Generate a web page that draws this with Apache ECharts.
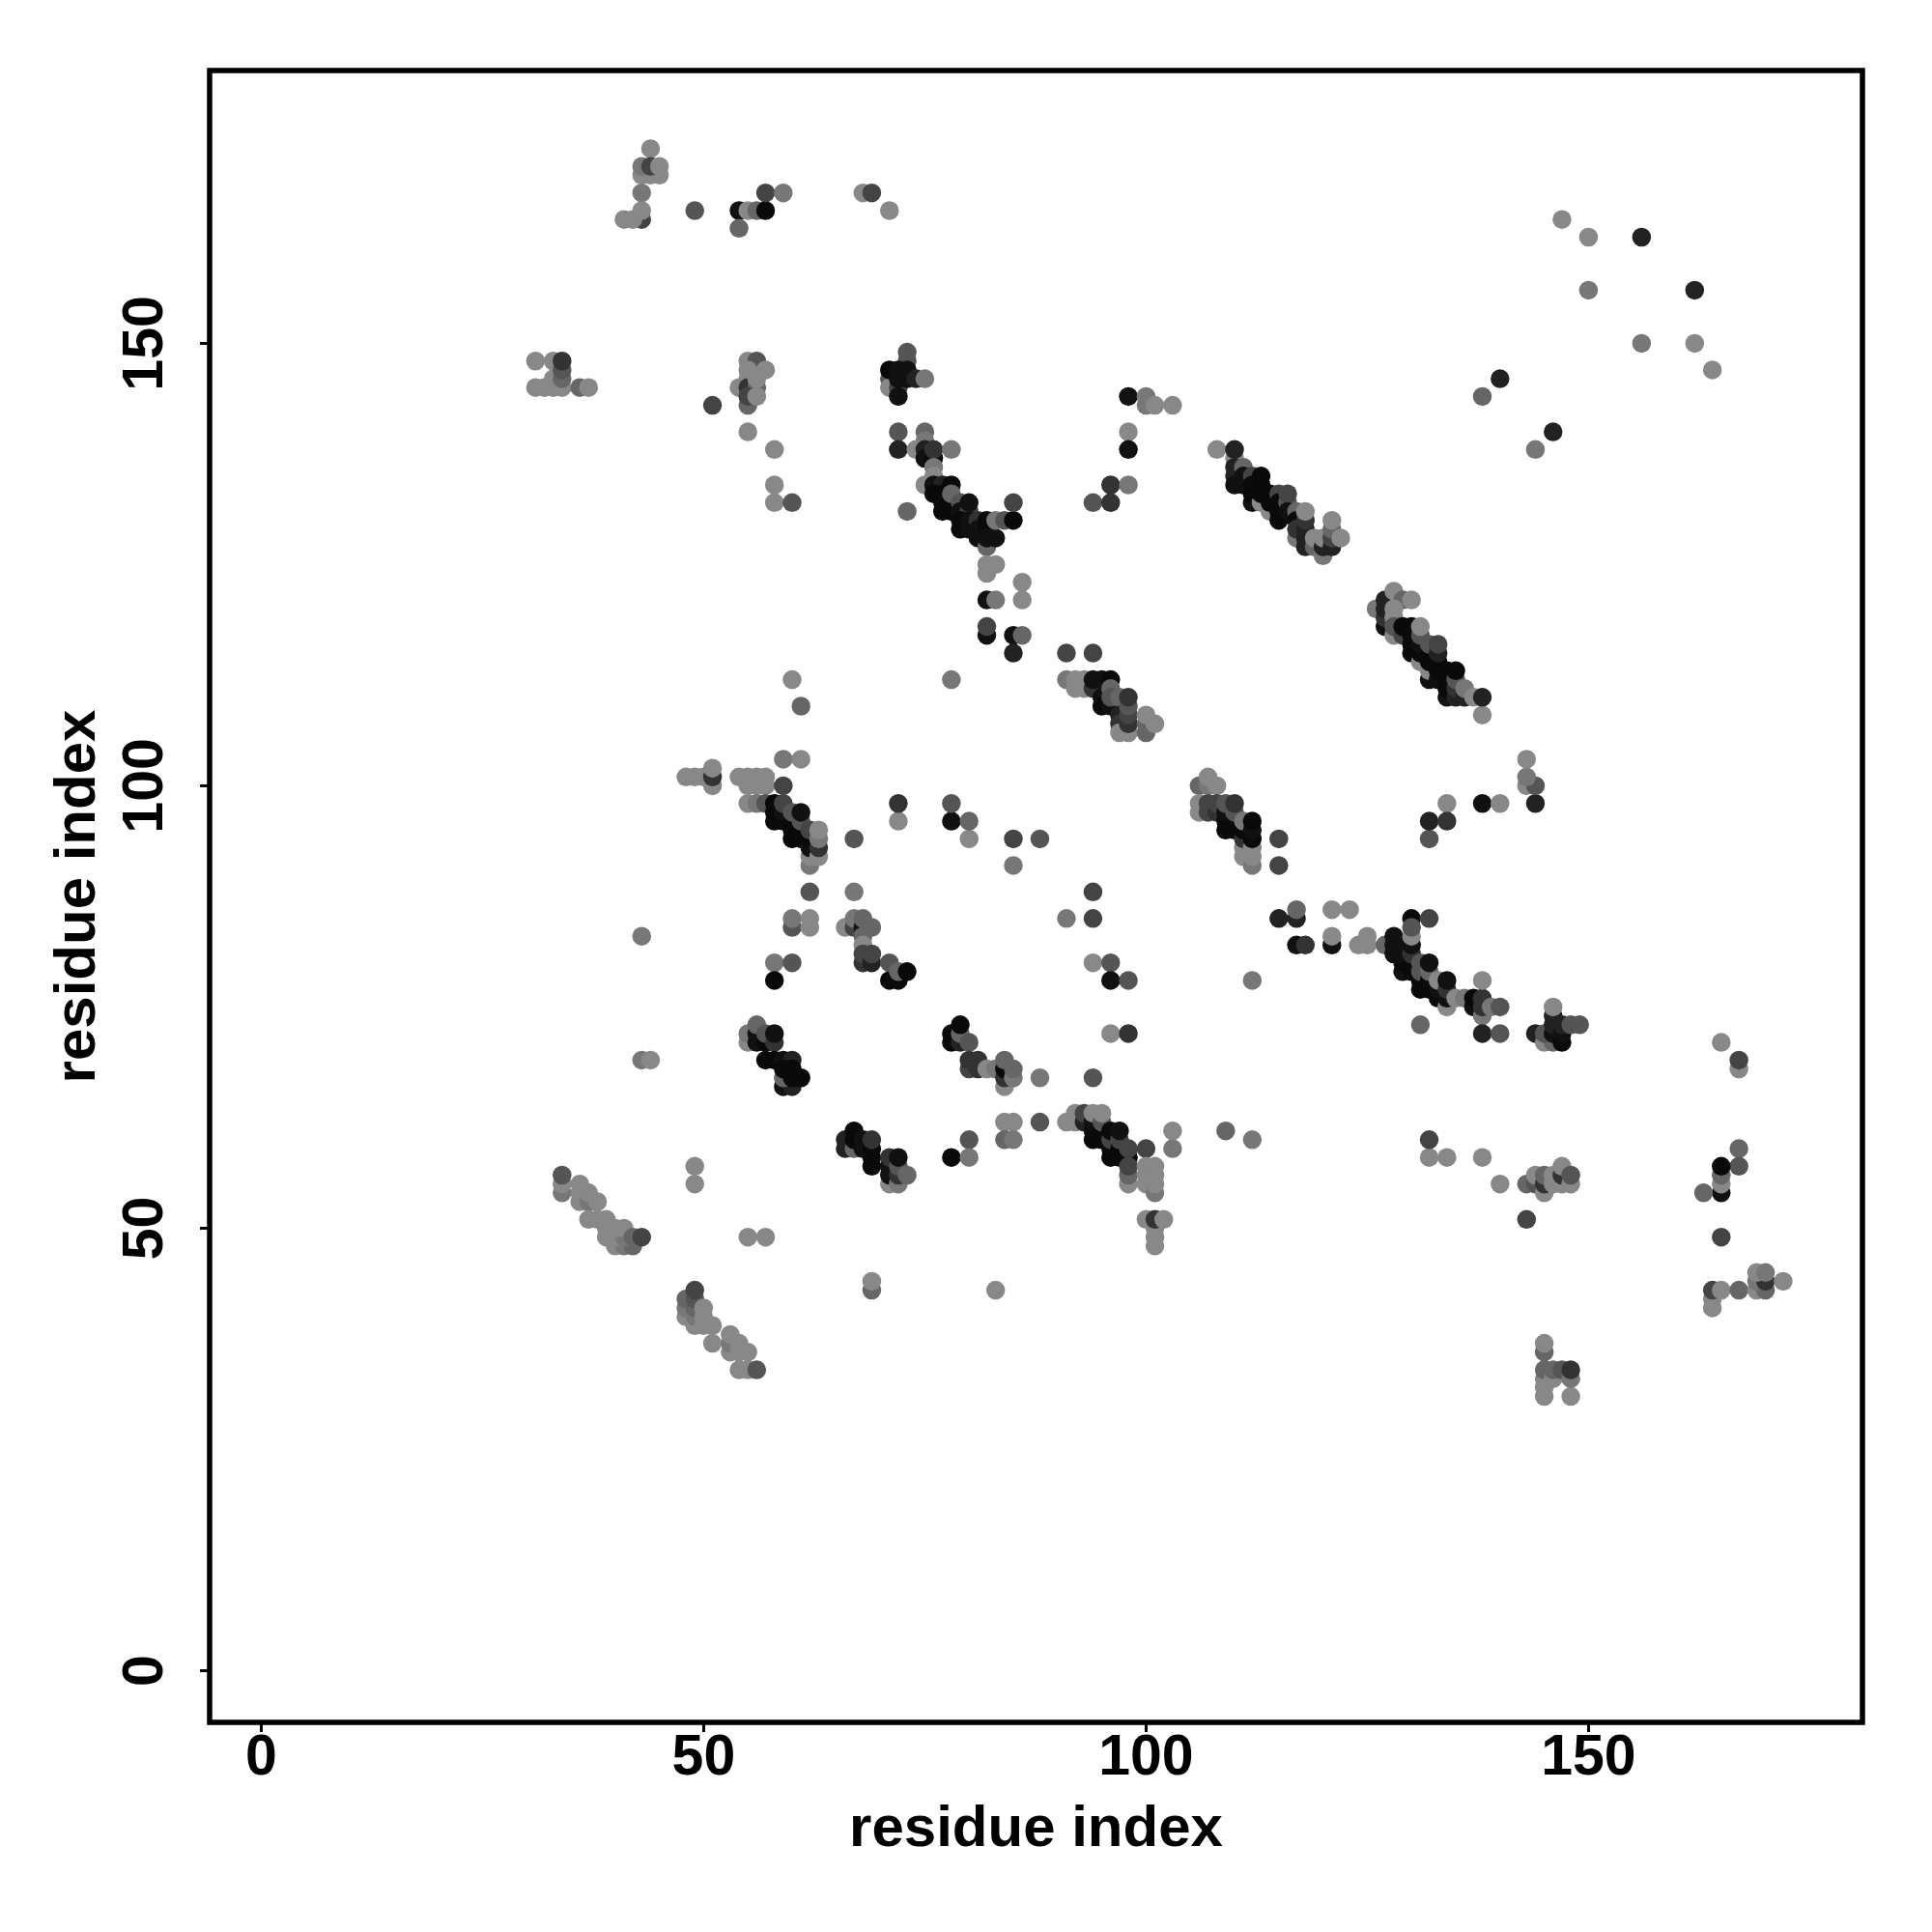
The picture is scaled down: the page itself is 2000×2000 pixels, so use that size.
<!DOCTYPE html>
<html>
<head>
<meta charset="utf-8">
<style>html,body{margin:0;padding:0;background:#fff}#c{width:2000px;height:2000px}</style>
<script src="https://cdn.jsdelivr.net/npm/echarts@6/dist/echarts.min.js"></script>
</head>
<body>
<div id="c"></div>
<script>
// Contacts as [residue x, residue y, shade], shade 0 (darkest) .. 8 (lightest)
const topLeft = [[44,172,8],[43,169,8],[44,169,8],[45,169,8],[43,170,7],[44,170,4],[45,170,8],[43,167,7],[43,164,4],[41,164,8],[42,164,8],[43,165,8],[49,165,5],[54,165,1],[55,165,8],[56,165,6],[57,165,0],[54,163,6],[57,167,4],[59,167,7],[68,167,8],[69,167,4],[71,165,8]];
const row145 = [[31,148,8],[33,148,8],[33,146,8],[31,145,8],[32,145,8],[33,145,8],[34,145,8],[34,146,6],[34,147,5],[34,148,3],[36,145,6],[37,145,8],[51,143,4],[55,148,8],[56,147,2],[56,148,5],[55,147,8],[55,146,8],[54,145,8],[55,145,3],[56,145,6],[56,146,8],[55,143,6],[55,144,4],[56,144,8],[57,147,8],[55,140,8],[58,138,8],[58,134,8],[58,132,8],[60,132,5],[73,131,6]];
const helixA = [[71,146,5],[71,145,8],[72,145,4],[72,144,1],[73,149,5],[73,148,5],[71,147,0],[72,147,1],[73,147,1],[72,146,1],[73,146,1],[74,146,2],[75,146,7],[72,140,5],[75,140,6],[75,139,7],[72,138,2],[74,138,8],[75,138,2],[75,137,1],[76,137,0],[76,138,3],[78,138,7],[76,136,7],[76,135,8],[75,134,8],[76,134,1],[77,134,2],[78,134,0],[76,133,0],[77,133,0],[77,132,0],[77,131,0],[78,132,0],[78,131,0],[78,133,6],[79,132,5],[79,131,1],[80,131,4],[80,132,1],[79,130,0],[79,129,0],[80,130,1],[80,129,1],[81,130,3],[81,129,1],[81,128,1],[82,127,6],[82,130,0],[82,129,0],[82,128,1],[83,128,1],[83,130,7],[84,130,5],[85,130,0],[85,132,4]];
const column82 = [[82,124,8],[82,125,8],[83,125,8],[86,123,8],[82,121,1],[83,121,7],[86,121,8],[82,117,1],[82,118,4],[85,117,1],[86,117,6],[85,115,2],[78,112,7],[60,112,8],[61,109,6]];
const helixB = [[91,115,4],[94,115,4],[91,112,7],[92,111,8],[93,111,8],[92,112,8],[93,112,8],[94,111,3],[94,112,1],[95,112,1],[96,112,0],[95,110,1],[95,109,0],[96,109,1],[96,111,6],[96,110,5],[97,110,6],[97,108,2],[97,107,3],[97,106,8],[98,106,8],[98,107,3],[98,108,4],[98,109,5],[98,110,3],[100,106,6],[100,107,6],[100,108,8],[101,107,8]];
const upperMid = [[98,144,1],[100,143,7],[100,144,7],[101,143,8],[103,143,8],[98,140,8],[98,138,1],[96,134,3],[98,134,7],[94,132,5],[96,132,3]];
const helixC = [[108,138,8],[110,137,8],[110,138,2],[110,136,2],[110,135,2],[110,134,1],[111,136,6],[111,135,1],[111,134,1],[112,135,4],[112,132,1],[112,134,0],[112,133,0],[113,132,8],[113,135,0],[113,134,0],[113,133,0],[114,131,8],[114,133,0],[114,132,0],[115,130,0],[115,133,4],[115,132,0],[115,131,0],[116,132,5],[116,133,4],[116,131,1],[117,131,6],[117,128,7],[117,130,0],[117,129,3],[118,127,2],[118,128,2],[118,129,2],[118,130,3],[118,131,8],[119,127,6],[119,128,8],[120,126,7],[120,127,2],[120,128,8],[121,127,2],[121,128,4],[121,129,6],[121,130,8],[122,128,8]];
const helixD = [[126,120,7],[127,118,1],[127,119,3],[127,120,2],[127,121,2],[128,122,8],[129,121,6],[130,121,8],[128,120,8],[128,119,8],[128,117,8],[128,118,5],[129,117,4],[129,118,0],[130,118,0],[130,115,0],[130,116,0],[130,117,0],[131,114,8],[131,115,0],[131,116,1],[131,117,5],[131,118,8],[132,112,1],[132,113,8],[132,114,0],[132,115,0],[132,116,5],[133,112,1],[133,113,0],[133,114,0],[133,115,2],[133,116,4],[134,110,1],[134,111,0],[134,112,0],[134,113,0],[135,110,2],[135,111,3],[135,112,5],[135,113,0],[136,110,2],[136,111,7],[137,110,8],[138,108,8],[138,110,2]];
const row100 = [[59,103,7],[61,103,8],[51,100,8],[48,101,8],[49,101,8],[50,101,8],[51,101,3],[51,102,8],[54,101,8],[55,100,8],[55,101,8],[56,100,8],[56,101,8],[57,100,8],[57,101,8],[59,100,4],[55,98,8],[56,98,7],[57,98,5],[58,96,0],[58,97,0],[58,98,0],[59,96,0],[59,97,1],[59,98,4],[60,94,0],[60,95,0],[60,96,0],[60,97,5],[61,94,0],[61,95,0],[61,96,5],[61,97,1],[62,91,7],[62,92,8],[62,93,1],[62,94,0],[62,95,4],[63,92,8],[63,93,3],[63,94,7],[63,95,8],[67,94,5],[62,88,5],[67,88,7],[72,96,8],[72,98,3],[78,96,1],[78,98,5],[80,94,8],[80,96,6],[85,91,7],[85,94,4],[88,94,5]];
const helixE = [[60,84,5],[60,85,7],[62,84,8],[62,85,8],[43,83,7],[66,84,8],[67,84,4],[67,85,7],[68,84,1],[68,85,6],[69,84,6],[68,83,6],[68,82,8],[68,80,3],[68,81,4],[69,80,2],[69,81,4],[71,78,0],[72,78,0],[71,80,5],[72,79,6],[73,79,0],[58,80,7],[60,80,5],[58,78,0],[91,85,7],[94,85,4],[94,88,4],[94,80,8],[96,80,5],[96,78,1],[98,78,5],[96,72,8],[98,72,3],[112,78,7]];
const helixF = [[55,71,8],[55,72,7],[56,71,1],[56,72,1],[56,73,6],[57,71,0],[57,72,5],[58,71,3],[58,72,1],[57,69,0],[58,69,0],[59,69,1],[60,69,2],[59,66,1],[60,66,2],[59,67,6],[59,68,0],[60,67,0],[60,68,0],[61,67,0],[43,69,7],[44,69,8]];
const helixG = [[78,71,0],[78,72,0],[79,71,2],[79,72,6],[79,73,0],[80,71,5],[80,68,4],[80,69,3],[81,68,3],[81,69,3],[82,68,8],[83,68,7],[84,66,8],[84,67,3],[84,68,0],[84,69,6],[85,67,7],[85,68,6],[88,67,7],[94,67,5]];
const helixH = [[84,62,8],[85,62,8],[88,62,5],[80,60,5],[84,60,6],[85,60,7],[78,58,0],[80,58,7],[91,62,8],[92,62,8],[92,63,8],[93,62,2],[93,63,4],[94,60,0],[94,61,0],[94,62,1],[94,63,8],[95,60,0],[95,61,0],[95,62,5],[95,63,8],[96,58,0],[96,59,0],[96,60,4],[96,61,0],[97,58,0],[97,59,0],[97,60,4],[97,61,1],[98,58,0],[98,59,4],[98,55,8],[98,56,6],[98,57,4],[100,59,4],[100,55,8],[100,56,8],[100,57,8],[101,54,7],[101,55,8],[101,56,8],[101,57,8],[103,59,7],[103,61,8],[109,61,6],[112,60,7],[100,51,8],[101,48,8],[101,49,8],[101,50,8],[101,51,3],[102,51,8]];
const helixI = [[66,59,2],[66,60,2],[67,59,6],[67,60,0],[67,61,0],[68,59,1],[68,60,1],[69,57,0],[69,58,0],[69,59,0],[69,60,3],[71,55,8],[71,56,1],[71,57,1],[71,58,3],[72,55,7],[72,56,3],[72,57,5],[72,58,1],[73,56,6],[49,55,8],[49,57,8],[55,49,8],[57,49,8],[69,43,6],[69,44,8],[83,43,8]];
const strandLow = [[34,54,7],[34,55,8],[34,56,5],[36,53,8],[36,54,8],[36,55,8],[37,53,7],[37,54,8],[38,53,8],[37,51,8],[38,51,8],[39,51,8],[40,48,8],[41,48,7],[42,48,6],[39,49,8],[40,49,8],[41,49,7],[39,50,8],[40,50,8],[41,50,8],[42,49,6],[43,49,4]];
const strandLow2 = [[48,40,8],[48,41,7],[48,42,6],[49,39,8],[49,40,7],[49,41,6],[49,42,5],[49,43,4],[50,39,8],[50,40,8],[50,41,8],[51,37,8],[51,39,8],[53,36,8],[53,37,7],[53,38,8],[54,36,8],[54,37,8],[55,36,8],[54,34,8],[55,34,8],[56,34,5]];
const helixJ = [[106,100,6],[107,100,7],[107,101,8],[108,100,8],[106,97,8],[106,98,8],[107,97,4],[107,98,4],[108,97,3],[108,98,4],[109,95,0],[109,96,0],[109,97,1],[109,98,5],[110,95,0],[110,96,0],[110,97,5],[110,98,3],[111,92,8],[111,93,8],[111,94,3],[111,95,0],[111,96,7],[112,91,7],[112,92,8],[112,93,8],[112,94,0],[112,95,1],[112,96,0],[115,91,4],[115,94,4]];
const rightMid = [[134,98,8],[132,94,5],[132,96,2],[134,96,3],[138,98,1],[140,98,8],[144,98,2],[143,100,8],[144,100,5],[143,101,7],[143,103,8]];
const helixK = [[115,85,2],[117,85,2],[117,86,6],[121,86,8],[123,86,8],[117,82,1],[118,82,3],[121,82,1],[121,83,8],[124,82,8],[125,82,8],[125,83,8],[127,82,6],[128,81,1],[128,82,1],[128,83,1],[129,79,1],[129,80,0],[129,81,1],[129,82,1],[130,85,0],[130,79,0],[130,80,0],[130,81,3],[130,82,1],[130,83,8],[130,84,5],[132,85,4],[131,77,0],[131,78,0],[131,79,5],[131,80,5],[132,77,0],[132,78,0],[132,79,6],[132,80,1],[133,76,0],[133,77,1],[133,78,8],[134,75,8],[134,76,1],[134,77,3],[134,78,1],[135,76,8],[136,76,7],[137,75,1],[137,76,0],[138,74,7],[138,75,3],[138,76,3],[138,78,8],[139,75,7],[140,75,5],[131,73,6],[138,72,2],[140,72,5]];
const helixL = [[144,72,2],[145,71,8],[146,71,6],[145,72,5],[146,72,1],[146,73,2],[146,74,2],[146,75,8],[147,71,0],[147,72,1],[147,73,2],[148,73,5],[149,73,5]];
const rightLow = [[132,58,8],[132,60,4],[134,58,8],[138,58,8],[140,55,8],[143,55,6],[143,51,4],[144,55,5],[144,56,8],[145,54,8],[145,55,3],[145,56,6],[146,55,8],[146,56,8],[147,55,8],[147,56,3],[147,57,8],[148,55,8],[148,56,5]];
const farRight = [[165,71,8],[167,68,8],[167,69,4],[167,59,6],[167,57,5],[165,54,1],[163,54,6],[165,55,8],[165,56,6],[165,57,0],[165,49,4],[164,41,8],[164,42,8],[164,43,4],[165,43,8],[167,43,6],[169,43,8],[170,43,6],[169,44,7],[170,44,3],[169,45,8],[170,45,7],[172,44,8]];
const bottomRight = [[145,36,6],[145,37,8],[145,31,8],[145,32,8],[145,33,8],[145,34,6],[146,33,8],[146,34,6],[147,34,5],[148,31,8],[148,33,7],[148,34,3]];
const topRight = [[147,164,8],[150,162,8],[156,162,2],[150,156,7],[162,156,2],[156,150,7],[162,150,8],[164,147,8],[140,146,2],[138,144,6],[146,140,2],[144,138,7]];

const tickValues = [0, 50, 100, 150];
const axisTitle = 'residue index';

const contacts = [].concat(topLeft, row145, helixA, column82, helixB, upperMid, helixC, helixD, row100, helixE, helixF, helixG, helixH, helixI, strandLow, strandLow2, helixJ, rightMid, helixK, helixL, rightLow, farRight, bottomRight, topRight);

const toGrey = s => { const g = s === 0 ? 10 : s * 17; return 'rgb(' + g + ',' + g + ',' + g + ')'; };
const font = '"Liberation Sans", Arial, sans-serif';
const axisBase = {
  type: 'value',
  nameLocation: 'middle',
  name: axisTitle,
  nameTextStyle: { color: '#000', fontFamily: font, fontWeight: 'bold', fontSize: 60 },
  axisLine: { show: false, onZero: false },
  splitLine: { show: false },
  axisTick: { show: true, length: 10, customValues: tickValues, lineStyle: { color: '#000', width: 3 } },
  axisLabel: { show: true, customValues: tickValues, color: '#000', fontFamily: font, fontWeight: 'bold', fontSize: 59 }
};
const chart = echarts.init(document.getElementById('c'), null, { renderer: 'canvas' });
chart.setOption({
  animation: false,
  backgroundColor: '#fff',
  grid: { left: 217, right: 72, top: 73, bottom: 217, show: true, borderColor: '#000', borderWidth: 5.5, backgroundColor: 'transparent' },
  xAxis: Object.assign({}, axisBase, { min: -5.83, max: 180.96, nameGap: 81,
    axisLabel: Object.assign({}, axisBase.axisLabel, { margin: 8 }) }),
  yAxis: Object.assign({}, axisBase, { min: -5.84, max: 180.83, nameGap: 106,
    axisLabel: Object.assign({}, axisBase.axisLabel, { rotate: 90, margin: 36 }) }),
  series: [{
    type: 'scatter',
    symbol: 'circle',
    symbolSize: 19.5,
    silent: true,
    large: false,
    data: contacts.map(c => ({ value: [c[0], c[1]], itemStyle: { color: toGrey(c[2]), opacity: 1 } }))
  }]
});
</script>
</body>
</html>
